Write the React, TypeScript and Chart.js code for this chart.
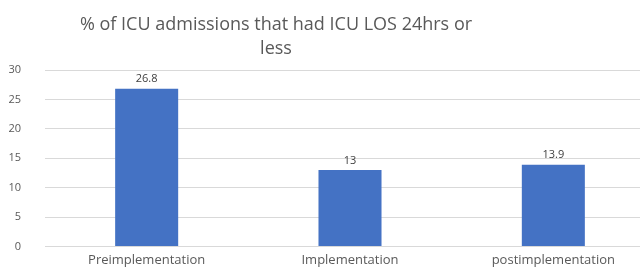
import React, { useEffect, useRef } from "react";
import { Chart, registerables } from "chart.js";

Chart.register(...registerables);

const titleLines = ["% of ICU admissions that had ICU LOS 24hrs or", "less"];
const categories = ["Preimplementation", "Implementation", "postimplementation"];
const values = [26.8, 13, 13.9];
const yTicks = [0, 5, 10, 15, 20, 25, 30];

const titlePlugin = {
  id: "customTitle",
  afterDraw(chart: any) {
    const ctx = chart.ctx;
    ctx.save();
    ctx.fillStyle = "#595959";
    ctx.font = "18px 'Open Sans'";
    ctx.textAlign = "center";
    ctx.textBaseline = "middle";
    titleLines.forEach((l, i) => ctx.fillText(l, 276, 25 + i * 24));
    ctx.restore();
  },
};

const valueLabelPlugin = {
  id: "valueLabels",
  afterDatasetsDraw(chart: any) {
    const ctx = chart.ctx;
    const meta = chart.getDatasetMeta(0);
    ctx.save();
    ctx.fillStyle = "#404040";
    ctx.font = "11px 'Open Sans'";
    ctx.textAlign = "center";
    ctx.textBaseline = "bottom";
    meta.data.forEach((bar: any, i: number) => {
      ctx.fillText(String(values[i]), bar.x, bar.y - 4);
    });
    ctx.restore();
  },
};

export default function App() {
  const ref = useRef<HTMLCanvasElement>(null);
  useEffect(() => {
    if (!ref.current) return;
    const chart = new Chart(ref.current, {
      type: "bar",
      data: {
        labels: categories,
        datasets: [
          {
            data: values,
            backgroundColor: "#4472C4",
            barPercentage: 0.31,
            categoryPercentage: 1,
          },
        ],
      },
      options: {
        animation: false,
        responsive: false,
        maintainAspectRatio: false,
        layout: { padding: { top: 70, left: 0, right: 0, bottom: 0 } },
        plugins: { legend: { display: false }, title: { display: false }, tooltip: { enabled: false } },
        scales: {
          x: {
            grid: { display: false, drawTicks: false },
            border: { display: false },
            ticks: { color: "#595959", font: { family: "'Open Sans'", size: 13 }, padding: 6, maxRotation: 0 },
            afterFit: (s: any) => { s.height = 22; },
          },
          y: {
            min: 0,
            max: 30,
            afterBuildTicks: (s: any) => { s.ticks = yTicks.map((v) => ({ value: v })); },
            grid: { color: "#d9d9d9", drawTicks: false },
            border: { display: false },
            ticks: { color: "#595959", font: { family: "'Open Sans'", size: 11 }, padding: 24 },
            afterFit: (s: any) => { s.width = 45; },
          },
        },
      },
      plugins: [titlePlugin, valueLabelPlugin],
    });
    return () => chart.destroy();
  }, []);
  return (
    <div style={{ position: "fixed", left: 0, top: 0, width: 640, height: 271, overflow: "hidden", background: "#fff" }}>
      <canvas ref={ref} width={655} height={277} style={{ width: 655, height: 277, display: "block" }} />
    </div>
  );
}
